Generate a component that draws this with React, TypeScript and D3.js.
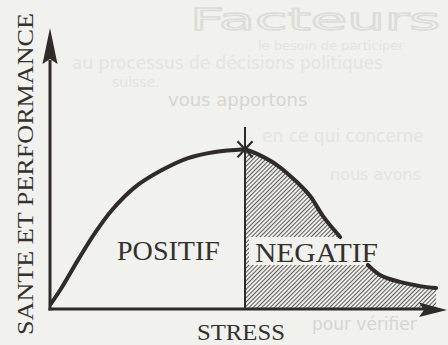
import * as d3 from 'd3';

const W = 448;
const H = 345;

// montee : stress positif (unites arbitraires 0..10)
const stressPos = [0.02, 0.31, 0.72, 1.15, 1.59, 2.18, 2.87, 3.54, 4.23, 5.0];
const santePos = [0.18, 0.79, 1.76, 2.72, 3.55, 4.37, 4.98, 5.41, 5.63, 5.73];
// descente jusqu'a l'etiquette NEGATIF
const stressNegHaut = [5.0, 5.31, 5.82, 6.33, 6.67, 7.0, 7.44];
const santeNegHaut = [5.73, 5.56, 5.16, 4.55, 4.05, 3.33, 2.58];
// queue de la courbe apres l'etiquette
const stressNegBas = [8.15, 8.46, 8.97, 9.49, 9.9];
const santeNegBas = [1.58, 1.22, 0.97, 0.82, 0.75];

const titreY = 'SANTE ET PERFORMANCE';
const titreX = 'STRESS';
const zones = ['POSITIF', 'NEGATIF'];

// texte du verso qui transparait (page scannee)
const verso = [
  { x: 258, y: 50, t: 'le besoin de participer', s: 13 },
  { x: 72, y: 69, t: 'au processus de décisions politiques', s: 17 },
  { x: 112, y: 87, t: 'suisse.', s: 14 },
  { x: 168, y: 106, t: 'vous apportons', s: 18, d: true },
  { x: 262, y: 142, t: 'en ce qui concerne', s: 17 },
  { x: 330, y: 180, t: 'nous avons', s: 16 },
  { x: 312, y: 330, t: 'pour vérifier', s: 17, d: true },
];

const serif = "'Liberation Serif', 'Times New Roman', serif";
const ink = '#2f2b27';
const bg = '#f1f1ed';

export default function App() {
  const x = d3.scaleLinear().domain([0, 10]).range([50, 440]);
  const y = d3.scaleLinear().domain([0, 10]).range([309, 30]);

  const pos = stressPos.map((s, i) => [s, santePos[i]] as [number, number]);
  const negHaut = stressNegHaut.map((s, i) => [s, santeNegHaut[i]] as [number, number]);
  const negBas = stressNegBas.map((s, i) => [s, santeNegBas[i]] as [number, number]);

  const courbe = d3.curveCatmullRom.alpha(0.5);
  const ligne = d3
    .line<[number, number]>()
    .x((d) => x(d[0]))
    .y((d) => y(d[1]))
    .curve(courbe);
  const aire = d3
    .area<[number, number]>()
    .x((d) => x(d[0]))
    .y0(y(0))
    .y1((d) => y(d[1]))
    .curve(courbe);

  const pic = pos[pos.length - 1];
  const px = x(pic[0]);
  const py = y(pic[1]);
  const x0 = x(0);
  const y0 = y(0);

  return (
    <svg
      width={W}
      height={H}
      style={{ position: 'absolute', left: 0, top: 0, display: 'block' }}
    >
      <defs>
        <pattern
          id="hachures"
          width={3}
          height={3}
          patternUnits="userSpaceOnUse"
          patternTransform="rotate(45)"
        >
          <line x1={0.5} y1={0} x2={0.5} y2={3} stroke="#5f5b56" strokeWidth={1.1} />
        </pattern>
      </defs>
      <rect width={W} height={H} fill={bg} />

      {/* verso */}
      <text
        x={190}
        y={30}
        fontFamily="'DejaVu Sans', sans-serif"
        fontSize={30}
        textLength={250}
        lengthAdjust="spacingAndGlyphs"
        fill="none"
        stroke="#dcdcd8"
        strokeWidth={1.4}
      >
        Facteurs
      </text>
      {verso.map((v, i) => (
        <text
          key={i}
          x={v.x}
          y={v.y}
          fontFamily="'DejaVu Sans', sans-serif"
          fontSize={v.s}
          fill={v.d ? '#d6d6d2' : '#e4e4e0'}
        >
          {v.t}
        </text>
      ))}

      {/* zone negative hachuree */}
      <path d={aire([...negHaut, ...negBas]) ?? ''} fill="url(#hachures)" />
      <rect x={249} y={237} width={133} height={28} fill={bg} />

      {/* axes */}
      <line x1={x0} y1={y0 + 1.5} x2={x0} y2={60} stroke={ink} strokeWidth={3} />
      <polygon
        points={`${x0},28 ${x0 + 7.5},64 ${x0},59 ${x0 - 7.5},64`}
        fill={ink}
      />
      <line x1={x0 - 1.5} y1={y0} x2={425} y2={y0} stroke={ink} strokeWidth={3} />
      <polygon
        points={`447,${y0 + 1} 419,${y0 - 6.5} 424,${y0 + 1} 419,${y0 + 8}`}
        fill={ink}
      />

      {/* separation et etoile du pic */}
      <line x1={px} y1={127} x2={px} y2={y0} stroke={ink} strokeWidth={2} />
      <line x1={px - 7.5} y1={py - 8} x2={px + 7.5} y2={py + 8} stroke={ink} strokeWidth={2.2} />
      <line x1={px + 7.5} y1={py - 8} x2={px - 7.5} y2={py + 8} stroke={ink} strokeWidth={2.2} />

      {/* courbe */}
      <g fill="none" stroke={ink} strokeWidth={4} strokeLinecap="round">
        <path d={ligne(pos) ?? ''} />
        <path d={ligne(negHaut) ?? ''} />
        <path d={ligne(negBas) ?? ''} />
      </g>

      {/* textes */}
      <g fontFamily={serif} fill="#333130">
        <text x={117} y={260} fontSize={28} textLength={103} lengthAdjust="spacingAndGlyphs">
          {zones[0]}
        </text>
        <text x={255} y={262} fontSize={28} textLength={123} lengthAdjust="spacingAndGlyphs">
          {zones[1]}
        </text>
        <text x={197} y={340} fontSize={24} textLength={88} lengthAdjust="spacingAndGlyphs">
          {titreX}
        </text>
        <text
          transform="translate(33,335) rotate(-90)"
          fontSize={24}
          textLength={322}
          lengthAdjust="spacingAndGlyphs"
        >
          {titreY}
        </text>
      </g>
    </svg>
  );
}
